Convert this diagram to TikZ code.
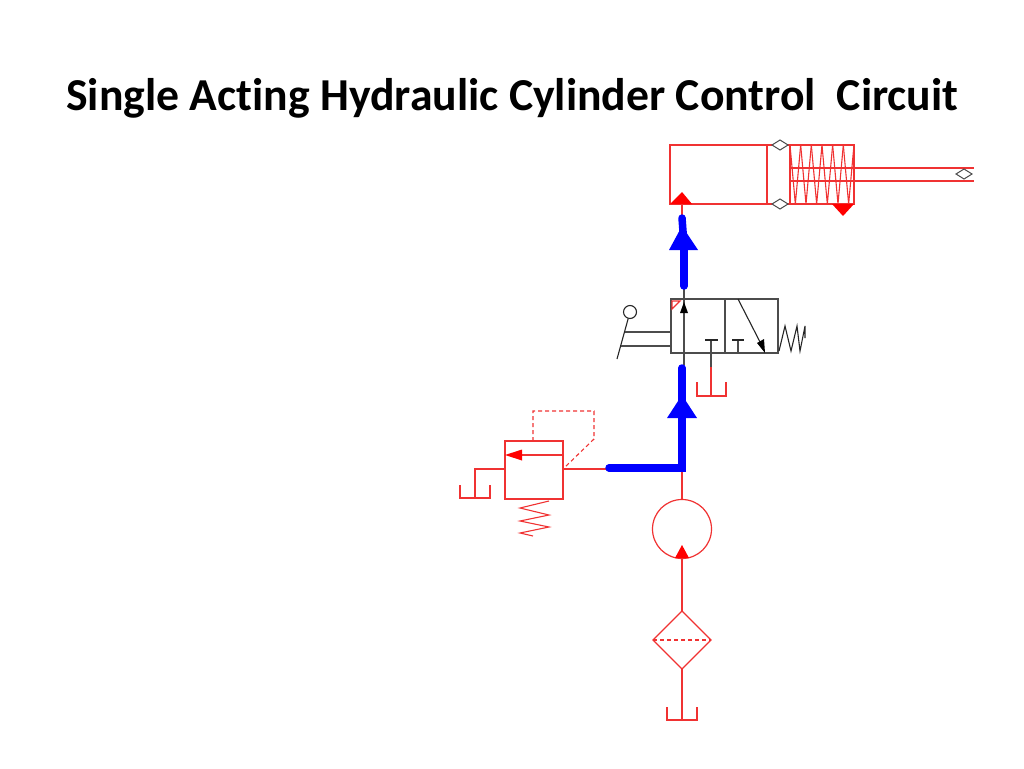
\documentclass[tikz,border=0pt]{standalone}
\usepackage{fontspec}
\setmainfont[Ligatures=NoCommon]{Carlito}
\usetikzlibrary{positioning,shapes.geometric}

\definecolor{linered}{RGB}{240,50,50}
\definecolor{pipeblue}{RGB}{0,0,255}

\tikzset{
  redline/.style={draw=linered, line width=1.2pt},
  darkline/.style={draw=black!70, line width=1.2pt},
  thinline/.style={draw=black!85, line width=1.1pt},
  dashline/.style={draw=linered, line width=1.1pt, dash pattern=on 4pt off 3pt},
  bluepipe/.style={draw=pipeblue, line width=7.5pt, line cap=round},
  redbox/.style={redline, rectangle, inner sep=0pt, outer sep=0pt},
  darkbox/.style={darkline, rectangle, inner sep=0pt, outer sep=0pt},
  port/.style={draw=black!70, fill=white, line width=1pt, diamond, inner sep=0pt, outer sep=0pt,
    minimum width=16pt, minimum height=10pt},
}

\begin{document}
\begin{tikzpicture}[x=1pt, y=-1pt]
    \useasboundingbox (0,0) rectangle (1024,768);

    \node[anchor=base west, inner sep=0pt, font=\fontsize{45.7}{50}\selectfont\bfseries] (Title) at (66,110)
      {Single Acting Hydraulic Cylinder Control\ \ Circuit};

    % cylinder
    \node[redbox, minimum width=184pt, minimum height=59pt] (Cylinder) at (762,174.5) {};
    \coordinate (Piston) at (767,145);
    \coordinate (PistonB) at (767,204);
    \coordinate (Gland) at (790,145);
    \coordinate (GlandB) at (790,204);
    \draw[redline] (Piston) -- (PistonB);
    \draw[redline] (Gland) -- (GlandB);
    \draw[redline] (790,168) -- (974,168);
    \draw[redline] (790,181) -- (974,181);
    \foreach \i in {0,2,...,10} {
      \draw[redline, line width=1.1pt] (790+\i*5.33,145) -- (790+\i*5.33+5.33,204) -- (790+\i*5.33+10.66,145);
    }
    \fill[red] (670,204) -- (682,192) -- (692,204) -- cycle;
    \fill[red] (832,204) -- (854,204) -- (843,216) -- cycle;
    \node[port] (PortTop) at (780,145) {};
    \node[port] (PortBottom) at (780,204) {};
    \node[port] (PortRod) at (964,174) {};

    % directional valve
    \node[darkbox, minimum width=107pt, minimum height=54pt] (Valve) at (724.5,326) {};
    \coordinate (ValveMid) at (725,299);
    \coordinate (ValveMidB) at (725,353);
    \draw[darkline] (ValveMid) -- (ValveMidB);

    % pump and filter
    \node[redline, circle, inner sep=0pt, outer sep=0pt, minimum size=59pt] (Pump) at (682,529) {};
    \node[redline, diamond, inner sep=0pt, outer sep=0pt, minimum width=58pt, minimum height=58pt] (Filter) at (682,640) {};
    \draw[dashline] (Filter.west) -- (Filter.east);
    \coordinate[below=51pt of Filter.south] (TankPump);
    \draw[redline] (Filter.south) -- (TankPump);
    \draw[redline] (667,707) |- (697,720) -- (697,707);
    \draw[redline] (Filter.north) -- (Pump.south);
    \fill[red] (675,558) -- (682,545) -- (689,558) -- cycle;

    % relief valve
    \node[redbox, minimum width=58pt, minimum height=58pt] (Relief) at (534,470) {};
    \coordinate (Junction) at (682,469);
    \draw[redline] (Junction) -- (Relief.east |- Junction);
    \draw[redline] (Pump.north) -- (Junction);
    \draw[redline] (563,455) -- (522,455);
    \fill[red] (505,455) -- (522,449.5) -- (522,460.5) -- cycle;
    \draw[dashline] (533,441) -- (533,411) -- (594,411) -- (594,439) -- (563,469);
    \draw[redline] (Relief.west |- Junction) -- (475,469) -- (475,498);
    \draw[redline] (460,485) |- (490,498) -- (490,485);
    \draw[redline, line width=1.1pt] (549,501) -- (520,508) -- (549,515) -- (520,521) -- (549,527) -- (520,533) -- (533,536);

    % valve details
    \draw[darkline] (684,288) -- (684,365);
    \fill[black] (684,302) -- (688,313) -- (680,313) -- cycle;
    \draw[redline, line width=1.1pt] (672,301) -- (680,301) -- (672,309) -- cycle;
    \draw[darkline] (711,340) -- (711,367);
    \draw[thinline] (705,340) -- (718,340);
    \draw[darkline] (738,340) -- (738,353);
    \draw[thinline] (732,340) -- (744,340);
    \draw[redline] (711,367) -- (711,396);
    \draw[redline] (697,382) |- (726,396) -- (726,382);
    \draw[thinline] (738,299) -- (760,342);
    \fill[black] (765,353) -- (757,343) -- (764,339) -- cycle;
    \draw[thinline] (779,351) -- (785,326) -- (791,351) -- (797,326) -- (800,351) -- (805,326) -- (805,338);

    % lever
    \node[thinline, circle, inner sep=0pt, minimum size=13pt] (Knob) at (630,312) {};
    \coordinate (LeverEnd) at (617,359);
    \draw[thinline] (Knob) -- (LeverEnd);
    \draw[darkline] (625,332) -- (671,332);
    \draw[darkline] (621,346) -- (671,346);

    % flow
    \draw[redline] (682,204) -- (682,217);
    \draw[bluepipe] (682,218) -- (684,245);
    \draw[bluepipe] (684,250) -- (684,286);
    \fill[pipeblue] (682,226) -- (698,250) -- (669,250) -- cycle;
    \draw[bluepipe] (682,368) -- (682,468) -- (609,468);
    \fill[pipeblue] (682,395) -- (697,418) -- (667,418) -- cycle;
\end{tikzpicture}
\end{document}
